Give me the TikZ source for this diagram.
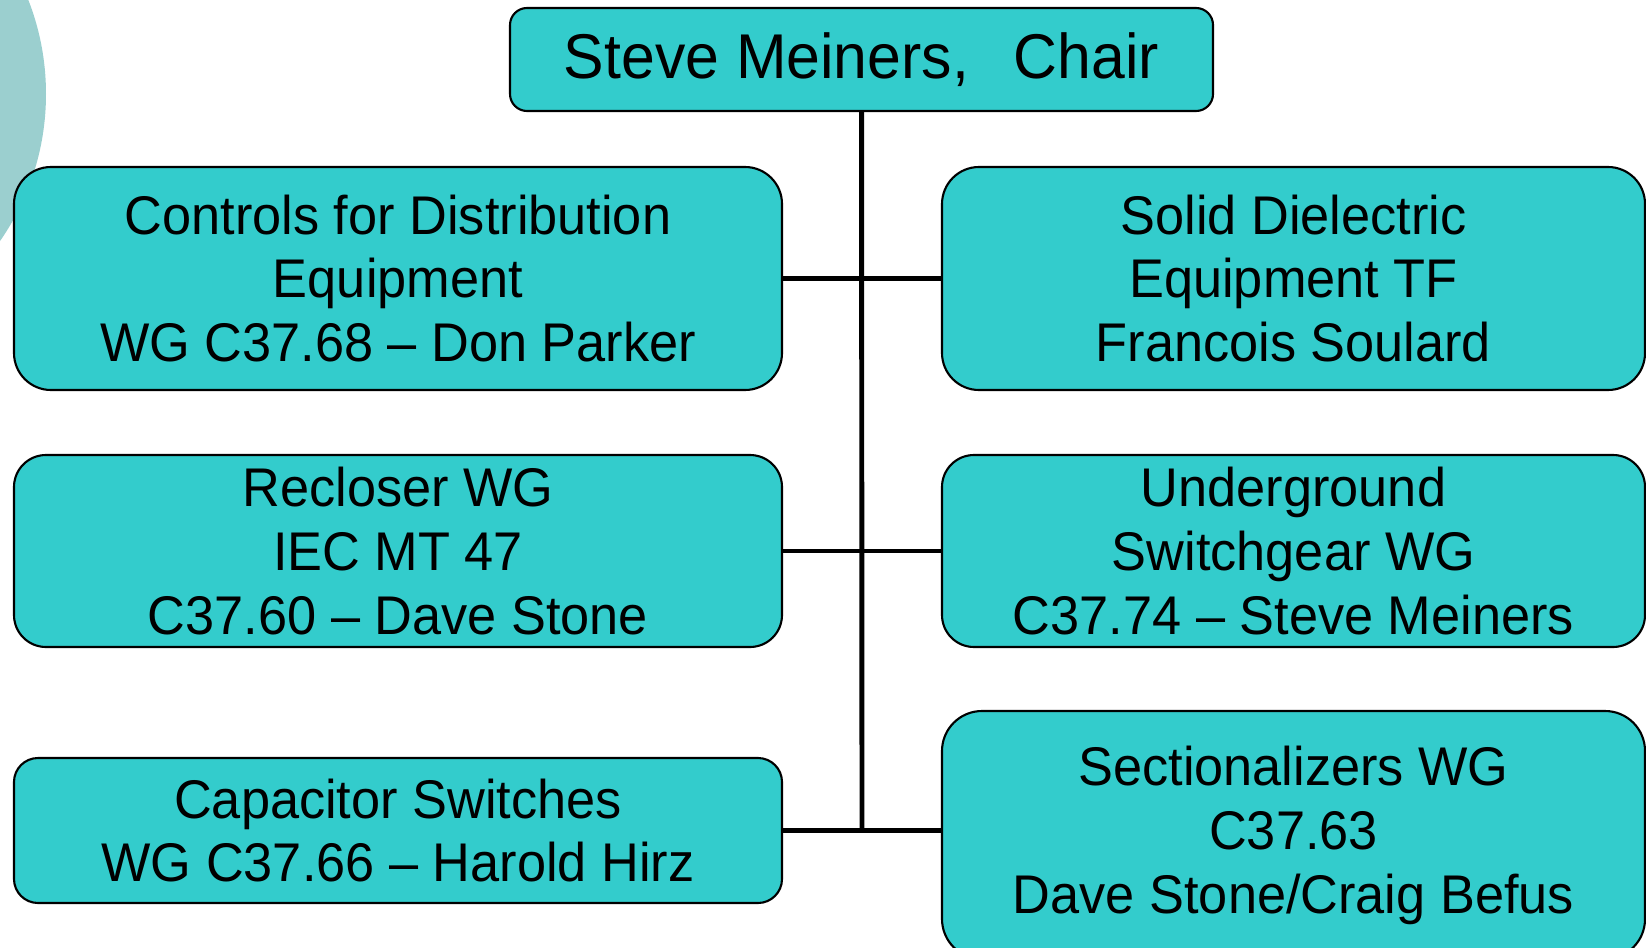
\documentclass[tikz,border=0pt]{standalone}
\usepackage{fontspec}
\setmainfont[FakeStretch=0.96]{Liberation Sans}
\usepackage{tikz}
\definecolor{turquoise}{RGB}{51,204,204}
\definecolor{pale}{RGB}{155,207,207}
\tikzstyle{groupe}=[rectangle,draw=black,line width=0.6pt,
fill=turquoise,text=black,font=\fontsize{15.5}{18.2}\selectfont,
align=center,inner sep=0pt]
\tikzstyle{gauche}=[groupe,minimum width=7.68cm]
\tikzstyle{droite}=[groupe,minimum width=7.03cm]
\tikzstyle{chef}=[groupe,minimum width=7.03cm,minimum height=1.03cm,
rounded corners=0.17cm,font=\fontsize{18}{20}\selectfont]
\tikzstyle{trait}=[line width=1.4pt,black]

\begin{document}
\begin{tikzpicture}
\useasboundingbox (0,0) rectangle (16.46,-9.47);
\fill[pale] (-2.12,-0.94) circle (2.58);

\node[chef] (C) at (8.615,-0.595) {Steve Meiners,\hspace{0.45cm}Chair};

\node[gauche,minimum height=2.23cm,rounded corners=0.37cm] (CD) at (3.98,-2.785)
{Controls for Distribution\\Equipment\\WG C37.68 -- Don Parker};
\node[gauche,minimum height=1.92cm,rounded corners=0.32cm] (RW) at (3.98,-5.51)
{Recloser WG\\IEC MT 47\\C37.60 -- Dave Stone};
\node[gauche,minimum height=1.45cm,rounded corners=0.24cm] (CS) at (3.98,-8.305)
{Capacitor Switches\\WG C37.66 -- Harold Hirz};

\node[droite,minimum height=2.23cm,rounded corners=0.37cm] (SD) at (12.935,-2.785)
{Solid Dielectric\\Equipment TF\\Francois Soulard};
\node[droite,minimum height=1.92cm,rounded corners=0.32cm] (US) at (12.935,-5.51)
{Underground\\Switchgear WG\\C37.74 -- Steve Meiners};
\node[droite,minimum height=2.48cm,rounded corners=0.40cm] (SW) at (12.935,-8.35)
{Sectionalizers WG\\C37.63\\Dave Stone/Craig Befus};

\coordinate (bas) at (8.62,-8.29);
\draw[trait] (C) -- (bas);
\draw[trait] (CD) -- (SD);
\draw[trait] (RW) -- (US);
\draw[trait] (CS.east) -- (SW.west |- CS.east);
\end{tikzpicture}
\end{document}
